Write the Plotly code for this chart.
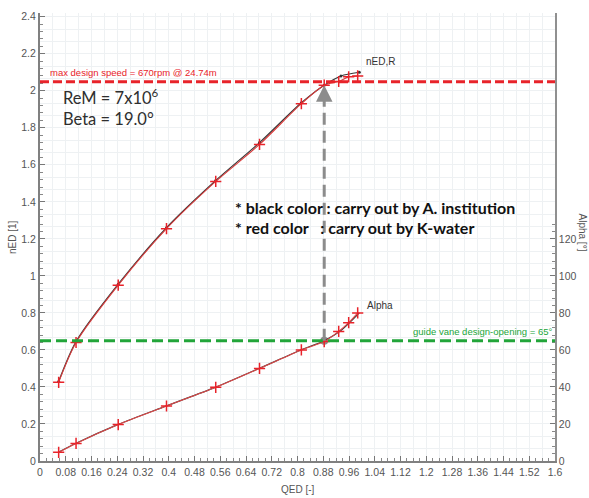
import plotly.graph_objects as go

# QED / nED / guide-vane opening measured along the speed line
q_red = [0.058, 0.112, 0.243, 0.393, 0.546, 0.682, 0.812, 0.883, 0.928, 0.959, 0.987]
ned_red = [0.425, 0.64, 0.95, 1.255, 1.51, 1.71, 1.93, 2.03, 2.05, 2.075, 2.08]
alpha_red = [4.7, 9.5, 19.7, 29.7, 39.8, 50.0, 60.0, 64.5, 70.0, 74.7, 80.0]

q_blk = [0.058, 0.112, 0.243, 0.393, 0.546, 0.682, 0.812, 0.883, 0.935, 0.992]
ned_blk = [0.43, 0.645, 0.955, 1.26, 1.515, 1.72, 1.935, 2.03, 2.08, 2.10]
alpha_blk = [4.8, 9.6, 19.8, 29.8, 39.9, 50.1, 60.1, 65.0, 70.5, 80.0]

max_speed_ned = 2.048      # max design speed level (nED)
design_opening = 65        # guide vane design opening, degrees
design_q = 0.883           # QED at the design point

x_ticks = [round(0.08 * i, 2) for i in range(21)]
alpha_ticks = [0, 20, 40, 60, 80, 100, 120]

SANS = "Liberation Sans, Arial, sans-serif"
BODY = "Lato, Open Sans, sans-serif"
RED = "#e8232a"
GREEN = "#22a53a"
GRAY = "#8c8c8c"

fig = go.Figure()

# nED curves
fig.add_trace(go.Scatter(x=q_blk, y=ned_blk, mode="lines+markers",
                         line=dict(color="#3a3a3a", width=1.2, shape="spline", smoothing=0.8),
                         marker=dict(symbol="circle", size=3, color="#333")))
fig.add_trace(go.Scatter(x=q_red, y=ned_red, mode="lines+markers",
                         line=dict(color="#d83a3a", width=1.1, shape="spline", smoothing=0.8),
                         marker=dict(symbol="cross-thin", size=8, line=dict(color=RED, width=1.5))))

# Alpha curves (right axis)
fig.add_trace(go.Scatter(x=q_blk, y=alpha_blk, yaxis="y2", mode="lines",
                         line=dict(color="#3a3a3a", width=1.2, shape="spline", smoothing=0.8)))
fig.add_trace(go.Scatter(x=q_red, y=alpha_red, yaxis="y2", mode="lines+markers",
                         line=dict(color="#e04848", width=1.1, shape="spline", smoothing=0.8),
                         marker=dict(symbol="cross-thin", size=8, line=dict(color=RED, width=1.5))))

# helper trace carrying the fine grid axes
fig.add_trace(go.Scatter(x=[None], y=[None], xaxis="x3", yaxis="y3", showlegend=False,
                         hoverinfo="skip"))

# design point marker
fig.add_trace(go.Scatter(x=[design_q], y=[design_opening / 100], mode="markers",
                         marker=dict(size=8, color=GRAY)))

shapes = [
    dict(type="line", xref="paper", x0=0, x1=1, yref="y", y0=max_speed_ned, y1=max_speed_ned,
         line=dict(color=RED, width=3, dash="9px,4px")),
    dict(type="line", xref="paper", x0=0, x1=1, yref="y", y0=design_opening / 100,
         y1=design_opening / 100, line=dict(color=GREEN, width=3, dash="11px,5px")),
    dict(type="line", xref="x", x0=design_q, x1=design_q, yref="y",
         y0=design_opening / 100, y1=1.96, line=dict(color=GRAY, width=3, dash="12px,6px")),
]

annotations = [
    # arrow head of the design-point marker line
    dict(x=design_q, y=2.03, xref="x", yref="y", ax=0, ay=16, axref="pixel", ayref="pixel",
         text="", showarrow=True, arrowhead=2, arrowsize=1.1, arrowwidth=3,
         arrowcolor=GRAY, standoff=0),
    dict(x=0.025, y=max_speed_ned, xref="x", yref="y", xanchor="left", yanchor="bottom",
         yshift=2, text="max design speed = 670rpm @ 24.74m", showarrow=False,
         font=dict(family=SANS, size=9.5, color=RED)),
    dict(x=1, y=design_opening / 100, xref="paper", yref="y", xanchor="right", yanchor="bottom",
         xshift=-1, yshift=2, text="guide vane design-opening = 65°", showarrow=False,
         font=dict(family=SANS, size=9.5, color=GREEN)),
    dict(x=0.064, y=1.965, xref="x", yref="y", xanchor="left", yanchor="middle",
         text="ReM = 7x10<sup>6</sup>", showarrow=False,
         font=dict(family=BODY, size=16.5, color="#2e2e2e")),
    dict(x=0.064, y=1.85, xref="x", yref="y", xanchor="left", yanchor="middle",
         text="Beta = 19.0°", showarrow=False,
         font=dict(family=BODY, size=16.5, color="#2e2e2e")),
    dict(x=0.6, y=1.37, xref="x", yref="y", xanchor="left", yanchor="middle",
         text="<b>* black color : carry out by A. institution</b>", showarrow=False,
         font=dict(family=BODY, size=16, color="#111")),
    dict(x=0.6, y=1.262, xref="x", yref="y", xanchor="left", yanchor="middle",
         text="<b>* red color \u00a0\u00a0: carry out by K-water</b>", showarrow=False,
         font=dict(family=BODY, size=16, color="#111")),
    dict(x=1.008, y=2.16, xref="x", yref="y", xanchor="left", yanchor="middle",
         text="nED,R", showarrow=False, font=dict(family=SANS, size=10, color="#333")),
    dict(x=1.011, y=0.842, xref="x", yref="y", xanchor="left", yanchor="middle",
         text="Alpha", showarrow=False, font=dict(family=SANS, size=10, color="#333")),
    # axis titles
    dict(x=0.5, y=0, xref="paper", yref="paper", yshift=-28, xanchor="center", yanchor="middle",
         text="QED [-]", showarrow=False, font=dict(family=SANS, size=10, color="#555")),
    dict(x=0, y=0.5, xref="paper", yref="paper", xshift=-28, xanchor="center", yanchor="middle",
         textangle=-90, text="nED [1]", showarrow=False,
         font=dict(family=SANS, size=10, color="#555")),
    dict(x=1, y=0.51, xref="paper", yref="paper", xshift=27, xanchor="center", yanchor="middle",
         textangle=90, text="Alpha [°]", showarrow=False,
         font=dict(family=SANS, size=10, color="#555")),
]

tickfont = dict(family=SANS, size=10.5, color="#555")

fig.update_layout(
    width=589, height=498,
    margin=dict(l=40, r=34, t=10, b=37),
    paper_bgcolor="white", plot_bgcolor="white",
    showlegend=False,
    shapes=shapes, annotations=annotations,
    xaxis=dict(range=[0, 1.6], tickmode="array", tickvals=x_ticks, ticks="inside", ticklen=5,
               tickcolor="#777", showline=True, linecolor="#808080", linewidth=2,
               showgrid=True, gridcolor="#dfe3e6", zeroline=False, tickfont=tickfont,
               minor=dict(dtick=0.02, tick0=0, ticks="inside", ticklen=3, tickcolor="#888",
                          showgrid=False)),
    yaxis=dict(range=[0, 2.42], tick0=0, dtick=0.2, ticks="inside", ticklen=5, tickcolor="#777",
               showline=True, linecolor="#808080", linewidth=2, showgrid=True,
               gridcolor="#dfe3e6", zeroline=False, tickfont=tickfont,
               minor=dict(dtick=0.04, tick0=0, ticks="inside", ticklen=3, tickcolor="#888",
                          showgrid=False)),
    yaxis2=dict(range=[0, 242], overlaying="y", side="right", tickmode="array",
                tickvals=alpha_ticks, ticks="inside", ticklen=5, tickcolor="#777",
                showline=True, linecolor="#909090", linewidth=1.5, showgrid=False,
                zeroline=False, tickfont=tickfont,
                minor=dict(tickmode="array", tickvals=[v for v in range(0, 132, 4)],
                           ticks="inside", ticklen=3, tickcolor="#888", showgrid=False)),
    xaxis3=dict(range=[0, 1.6], overlaying="x", tick0=0, dtick=0.04, showgrid=True,
                gridcolor="#eef1f3", showticklabels=False, ticks="", showline=False,
                zeroline=False),
    yaxis3=dict(range=[0, 2.42], overlaying="y", tick0=0, dtick=0.2 / 3, showgrid=True,
                gridcolor="#eef1f3", showticklabels=False, ticks="", showline=False,
                zeroline=False),
)

fig.write_html("out.html")
